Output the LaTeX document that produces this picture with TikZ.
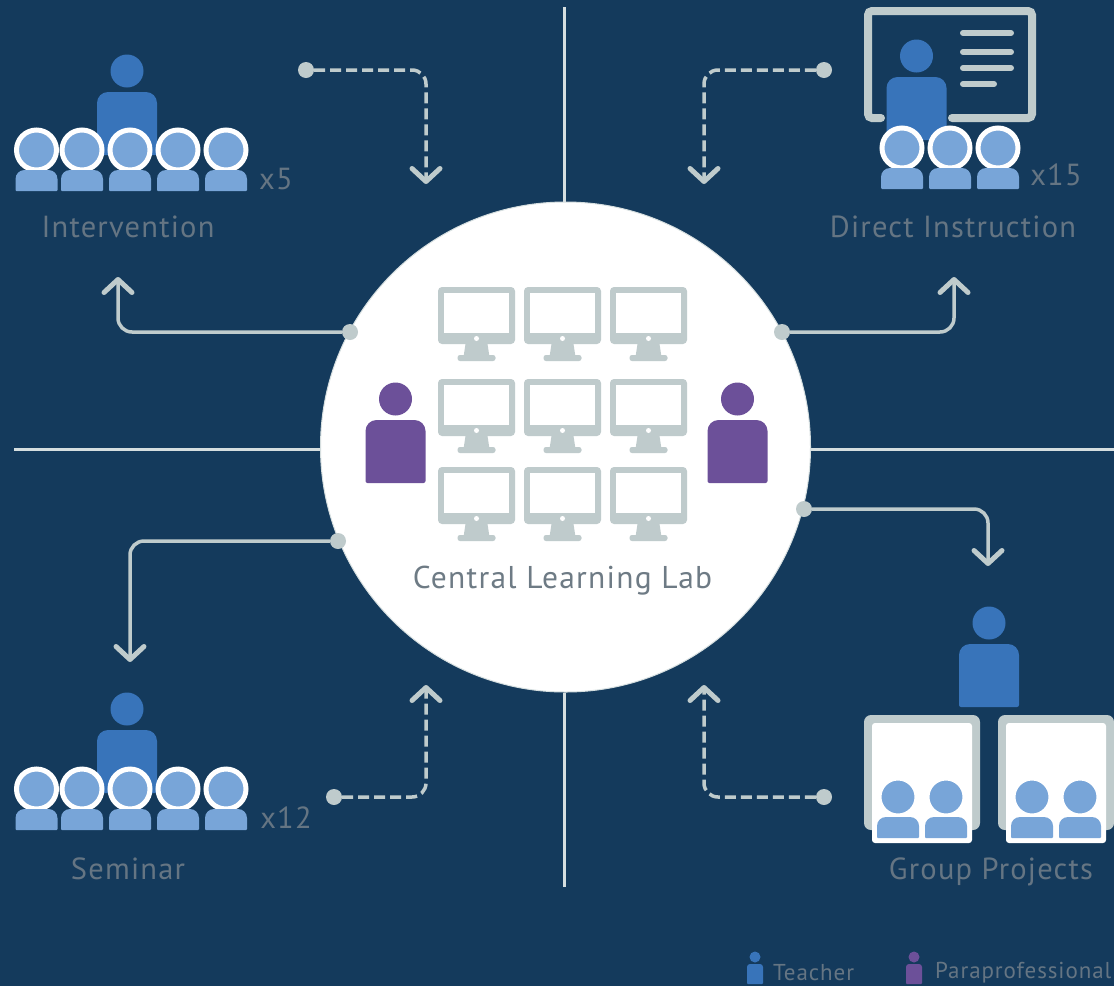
\documentclass[tikz,border=0pt]{standalone}
\usepackage{fontspec}
\setmainfont[LetterSpace=4]{PT Sans}
\usetikzlibrary{arrows.meta}
\definecolor{navy}{HTML}{143A5C}
\definecolor{teacherblue}{HTML}{3874BA}
\definecolor{pupilblue}{HTML}{78A5D8}
\definecolor{paraviolet}{HTML}{6C5099}
\definecolor{panel}{HTML}{BFCBCC}
\definecolor{caption}{HTML}{657583}
\definecolor{labcaption}{HTML}{6E7B85}
\definecolor{axisline}{HTML}{D5DEDF}
\tikzset{
  dotmark/.style={circle,fill=panel,draw=none,inner sep=0pt,minimum size=16pt},
  wire/.style={draw=panel,line width=3.5pt,rounded corners=14pt,-{Straight Barb[round,length=13pt,width=28pt,line width=5pt]}},
  dashwire/.style={wire,dash pattern=on 11pt off 5pt},
  axis/.style={draw=axisline,line width=3pt},
  caption/.style={text=caption,font=\fontsize{30.5}{34}\selectfont,inner sep=0pt},
  legend/.style={text=caption,font=\fontsize{23}{27}\selectfont,inner sep=0pt},
}
\newcommand{\person}[3]{\fill[#3] ( #1 , #2 ) circle [radius=16.5]; \fill[#3] [rounded corners=2pt] ( #1 - 30 , #2 + 84 ) [rounded corners=11pt] -- ( #1 - 30 , #2 + 21 ) -- ( #1 + 30 , #2 + 21 ) [rounded corners=2pt] -- ( #1 + 30 , #2 + 84 ) -- cycle;}
\newcommand{\tinyperson}[3]{\fill[#3] ( #1 , #2 ) circle [radius=5.5]; \fill[#3] [rounded corners=1pt] ( #1 - 8 , #2 + 27 ) [rounded corners=3pt] -- ( #1 - 8 , #2 + 7 ) -- ( #1 + 8 , #2 + 7 ) [rounded corners=1pt] -- ( #1 + 8 , #2 + 27 ) -- cycle;}
\newcommand{\pupil}[3]{\filldraw[fill=pupilblue,draw=white,line width=5pt] ( #1 , #2 ) circle [radius=#3]; \fill[pupilblue] [rounded corners=1pt] ( #1 - 21 , #2 + 41 ) [rounded corners=9pt] -- ( #1 - 21 , #2 + 20 ) -- ( #1 + 21 , #2 + 20 ) [rounded corners=1pt] -- ( #1 + 21 , #2 + 41 ) -- cycle;}
\newcommand{\monitor}[2]{\fill[panel,rounded corners=4pt] ( #1 - 38.5 , #2 ) rectangle ( #1 + 38.5 , #2 + 57 ); \fill[white] ( #1 - 32.5 , #2 + 6 ) rectangle ( #1 + 32.5 , #2 + 46 ); \fill[white] ( #1 , #2 + 51.5 ) circle [radius=2.5]; \fill[panel] ( #1 - 11 , #2 + 57 ) -- ( #1 + 11 , #2 + 57 ) -- ( #1 + 13 , #2 + 70 ) -- ( #1 - 13 , #2 + 70 ) -- cycle; \fill[panel,rounded corners=2.5pt] ( #1 - 19 , #2 + 68 ) rectangle ( #1 + 19 , #2 + 74 );}
\newcommand{\desk}[1]{\fill[panel,rounded corners=7pt] ( #1 , 715 ) rectangle ( #1 + 116 , 830 ); \fill[white,rounded corners=3pt] ( #1 + 8 , 723 ) rectangle ( #1 + 108 , 843 );}
\begin{document}
\begin{tikzpicture}[x=1pt,y=-1pt]
        \useasboundingbox (0,0) rectangle (1114,986);
        \fill[navy] (0,0) rectangle (1114,986);
        % hub and axes
        \node[circle,fill=white,draw=axisline,line width=1pt,inner sep=0pt,minimum size=490pt] (hub) at (565.5,447) {};
        \coordinate (axisN) at (564,7);
        \coordinate (axisS) at (564,887);
        \coordinate (axisW) at (14,449);
        \coordinate (axisE) at (1114,449);
        \draw[axis] (hub.north -| axisN) -- (axisN);
        \draw[axis] (hub.south -| axisS) -- (axisS);
        \draw[axis] (hub.west |- axisW) -- (axisW);
        \draw[axis] (hub.east |- axisE) -- (axisE);
        % lab row1
        \monitor{476.5}{287}
        \monitor{562.5}{287}
        \monitor{648.5}{287}
        % lab row2
        \monitor{476.5}{379}
        \monitor{562.5}{379}
        \monitor{648.5}{379}
        % lab row3
        \monitor{476.5}{467}
        \monitor{562.5}{467}
        \monitor{648.5}{467}
        \person{395.5}{399}{paraviolet}
        \person{737.5}{399}{paraviolet}
        \node[text=labcaption,font=\fontsize{31.5}{35}\selectfont,inner sep=0pt] (labname) at (562.5,581) {Central Learning Lab};
        % intervention
        \person{127}{71}{teacherblue}
        \pupil{36.5}{150}{20}
        \pupil{82}{150}{20}
        \pupil{130}{150}{20}
        \pupil{178}{150}{20}
        \pupil{226}{150}{20}
        \node[caption] (countA) at (276,179) {x5};
        \node[caption] (nameA) at (128,227) {Intervention};
        % direct instruction
        \draw[panel,line width=8pt,line cap=round,rounded corners=4pt] (881,118) -- (868,118) -- (868,11) -- (1032,11) -- (1032,118) -- (952,118);
        \draw[panel,line width=6pt,line cap=round] (963,33) -- (1011,33);
        \draw[panel,line width=6pt,line cap=round] (963,52) -- (1011,52);
        \draw[panel,line width=6pt,line cap=round] (963,68) -- (1011,68);
        \draw[panel,line width=6pt,line cap=round] (963,84) -- (994,84);
        \person{916.5}{56}{teacherblue}
        \pupil{902}{148}{20}
        \pupil{950}{148}{20}
        \pupil{998}{148}{20}
        \node[caption] (countB) at (1056,175) {x15};
        \node[caption] (nameB) at (953,227) {Direct Instruction};
        % seminar
        \person{127}{709}{teacherblue}
        \pupil{36.5}{789}{20}
        \pupil{82}{789}{20}
        \pupil{130}{789}{20}
        \pupil{178}{789}{20}
        \pupil{226}{789}{20}
        \node[caption] (countC) at (286,818) {x12};
        \node[caption] (nameC) at (128,869) {Seminar};
        % group projects
        \person{989}{623}{teacherblue}
        \desk{864}
        \desk{998}
        \pupil{898}{797}{19}
        \pupil{946}{797}{19}
        \pupil{1032}{797}{19}
        \pupil{1080}{797}{19}
        \node[caption] (nameD) at (991,872) {Group Projects};
        % connectors
        \node[dotmark] (dotA) at (350,332) {};
        \coordinate (bendA) at (118,332);
        \coordinate (endA) at (118,277);
        \draw[wire] (dotA) -- (bendA) -- (endA);
        \node[dotmark] (dotB) at (782,332) {};
        \coordinate (bendB) at (954,332);
        \coordinate (endB) at (954,277);
        \draw[wire] (dotB) -- (bendB) -- (endB);
        \node[dotmark] (dotC) at (338,541) {};
        \coordinate (bendC) at (130,541);
        \coordinate (endC) at (130,662);
        \draw[wire] (dotC) -- (bendC) -- (endC);
        \node[dotmark] (dotD) at (804,509) {};
        \coordinate (bendD) at (988,509);
        \coordinate (endD) at (988,566);
        \draw[wire] (dotD) -- (bendD) -- (endD);
        \node[dotmark] (dotE) at (306,70) {};
        \coordinate (bendE) at (426,70);
        \coordinate (endE) at (426,184);
        \draw[dashwire] (dotE) -- (bendE) -- (endE);
        \node[dotmark] (dotF) at (824,70) {};
        \coordinate (bendF) at (704,70);
        \coordinate (endF) at (704,184);
        \draw[dashwire] (dotF) -- (bendF) -- (endF);
        \node[dotmark] (dotG) at (334,797) {};
        \coordinate (bendG) at (426,797);
        \coordinate (endG) at (426,685);
        \draw[dashwire] (dotG) -- (bendG) -- (endG);
        \node[dotmark] (dotH) at (824,797) {};
        \coordinate (bendH) at (704,797);
        \coordinate (endH) at (704,685);
        \draw[dashwire] (dotH) -- (bendH) -- (endH);
        % legend
        \tinyperson{755}{957}{teacherblue}
        \node[legend,anchor=west] (keyA) at (773,973) {Teacher};
        \tinyperson{914}{957}{paraviolet}
        \node[legend,anchor=west] (keyB) at (935,973) {Paraprofessional};
    \end{tikzpicture}
\end{document}
